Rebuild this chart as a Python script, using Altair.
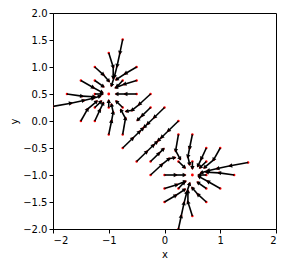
import altair as alt
import numpy as np
import pandas as pd

# Trajectories (iterates); arrows join consecutive points
traj_x = [
    [-2.0, -1.68, -1.45, -1.28, -1.16],
    [-0.75, -0.8, -0.85, -0.9, -0.95],
    [-1.0, -0.92, -0.92],
    [-0.5, -0.7, -0.86],
    [-1.25, -1.1, -1.0],
    [-0.5, -0.72, -0.87],
    [-1.5, -1.28, -1.12],
    [-1.25, -1.1],
    [-0.5, -0.7, -0.86],
    [-0.25, -0.45, -0.58, -0.68],
    [-1.75, -1.48, -1.26],
    [-1.5, -1.38, -1.22],
    [-1.25, -1.16, -1.1],
    [-1.0, -0.95, -0.92, -0.95],
    [-0.75, -0.7, -0.78],
    [-0.75, -0.86],
    [-1.0, -1.0],
    [-0.75, -0.85],
    [-1.25, -1.14],
    [-0.75, -0.57, -0.45, -0.39],
    [0.0, -0.18, -0.3, -0.36],
    [-0.25, -0.4, -0.48],
    [-1.25, -1.12],
    [1.5, 1.18, 0.95, 0.78, 0.66],
    [0.25, 0.3, 0.35, 0.4, 0.45],
    [0.5, 0.42, 0.42],
    [0.0, 0.2, 0.36],
    [0.75, 0.6, 0.5],
    [0.0, 0.22, 0.37],
    [1.0, 0.78, 0.62],
    [0.75, 0.6],
    [0.0, 0.2, 0.36],
    [-0.25, -0.05, 0.08, 0.18],
    [1.25, 0.98, 0.76],
    [1.0, 0.88, 0.72],
    [0.75, 0.66, 0.6],
    [0.5, 0.45, 0.42, 0.45],
    [0.25, 0.2, 0.28],
    [0.25, 0.36],
    [0.5, 0.5],
    [0.25, 0.35],
    [0.75, 0.64],
    [0.25, 0.07, -0.05, -0.11],
    [-0.5, -0.32, -0.2, -0.14],
    [-0.25, -0.1, -0.02],
    [0.75, 0.62],
]
traj_y = [
    [0.27, 0.33, 0.38, 0.42, 0.46],
    [1.51, 1.26, 1.02, 0.82, 0.66],
    [1.26, 1.0, 0.8],
    [1.0, 0.88, 0.77],
    [1.0, 0.86, 0.74],
    [0.75, 0.68, 0.62],
    [0.75, 0.62, 0.53],
    [0.75, 0.64],
    [0.5, 0.5, 0.5],
    [0.5, 0.31, 0.2, 0.18],
    [0.5, 0.46, 0.45],
    [0.0, 0.22, 0.36],
    [0.0, 0.2, 0.33],
    [-0.25, 0.0, 0.16, 0.3],
    [-0.25, 0.05, 0.2],
    [0.25, 0.36],
    [0.25, 0.37],
    [0.75, 0.64],
    [0.25, 0.36],
    [-0.5, -0.32, -0.2, -0.14],
    [0.25, 0.07, -0.05, -0.11],
    [0.25, 0.1, 0.02],
    [0.5, 0.5],
    [-0.77, -0.83, -0.88, -0.92, -0.96],
    [-2.0, -1.76, -1.52, -1.32, -1.16],
    [-1.76, -1.5, -1.3],
    [-1.5, -1.38, -1.27],
    [-1.5, -1.36, -1.24],
    [-1.25, -1.18, -1.12],
    [-1.25, -1.12, -1.03],
    [-1.25, -1.14],
    [-1.0, -1.0, -1.0],
    [-1.0, -0.81, -0.7, -0.68],
    [-1.0, -0.96, -0.95],
    [-0.5, -0.72, -0.86],
    [-0.5, -0.7, -0.83],
    [-0.25, -0.5, -0.66, -0.8],
    [-0.25, -0.55, -0.7],
    [-0.75, -0.86],
    [-0.75, -0.87],
    [-1.25, -1.14],
    [-0.75, -0.86],
    [0.0, -0.18, -0.3, -0.36],
    [-0.75, -0.57, -0.45, -0.39],
    [-0.75, -0.6, -0.52],
    [-1.0, -1.0],
]
minima_x = [-1.0, 0.5]
minima_y = [0.5, -1.0]

x_ticks = [-2, -1, 0, 1, 2]
y_ticks = [-2.0, -1.5, -1.0, -0.5, 0.0, 0.5, 1.0, 1.5, 2.0]

W, H = 223, 216

rows = []
pts = []
for xs, ys in zip(traj_x, traj_y):
    for i in range(len(xs)):
        pts.append({"x": xs[i], "y": ys[i]})
    for i in range(len(xs) - 1):
        dx = xs[i + 1] - xs[i]
        dy = ys[i + 1] - ys[i]
        ang = (np.degrees(np.arctan2(dx * W / 4, dy * H / 4)) + 360) % 360
        rows.append({"x": xs[i], "y": ys[i], "x2": xs[i + 1], "y2": ys[i + 1], "ang": float(ang)})
arrows = pd.DataFrame(rows)
points = pd.DataFrame(pts)
minima = pd.DataFrame({"x": minima_x, "y": minima_y})

xs_ = alt.Scale(domain=[-2, 2], nice=False, zero=False)
ys_ = alt.Scale(domain=[-2, 2], nice=False, zero=False)
xax = alt.Axis(values=x_ticks, format="d", title="x")
yax = alt.Axis(values=y_ticks, format=".1f", title="y")

red_pts = alt.Chart(points).mark_circle(color="red", size=6, opacity=1, clip=True).encode(
    x=alt.X("x:Q", scale=xs_, axis=xax), y=alt.Y("y:Q", scale=ys_, axis=yax))
shafts = alt.Chart(arrows).mark_rule(color="black", strokeWidth=1.6, clip=True).encode(
    x=alt.X("x:Q", scale=xs_, axis=xax), y=alt.Y("y:Q", scale=ys_, axis=yax),
    x2="x2:Q", y2="y2:Q")
heads = alt.Chart(arrows).mark_point(shape="triangle-up", filled=True, color="black",
                                     size=20, opacity=1, clip=True).encode(
    x=alt.X("x2:Q", scale=xs_, axis=xax), y=alt.Y("y2:Q", scale=ys_, axis=yax),
    angle=alt.Angle("ang:Q", scale=None))
mins = alt.Chart(minima).mark_circle(color="red", size=8, opacity=1).encode(
    x=alt.X("x:Q", scale=xs_, axis=xax), y=alt.Y("y:Q", scale=ys_, axis=yax))

chart = alt.layer(red_pts, shafts, heads, mins).properties(
    width=W, height=H,
    autosize=alt.AutoSizeParams(type="none"),
    padding={"left": 45, "top": 5, "right": 2, "bottom": 30},
).configure_view(stroke="black", strokeWidth=1).configure_axis(
    grid=False, domainColor="black", tickColor="black", tickSize=4,
    labelColor="black", labelFont="DejaVu Sans", labelFontSize=10, labelPadding=2,
    titleColor="black", titleFont="DejaVu Sans", titleFontSize=10, titleFontWeight="normal",
).configure_axisY(titlePadding=3).configure_axisX(titlePadding=4)

chart.save("out.html", embed_options={"renderer": "svg", "actions": False})
